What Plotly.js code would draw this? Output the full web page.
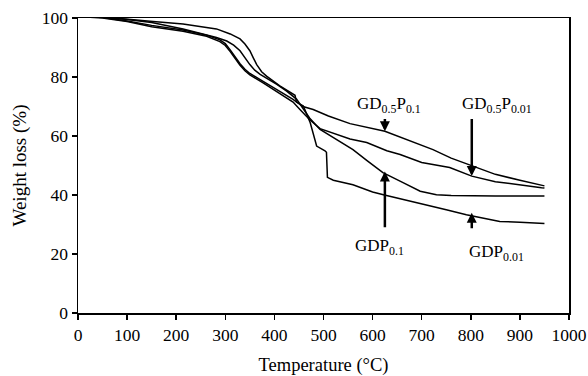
<!DOCTYPE html>
<html>
<head>
<meta charset="utf-8">
<script src="https://cdn.plot.ly/plotly-3.0.1.min.js"></script>
<style>html,body{margin:0;padding:0;background:#fff;}#chart{width:588px;height:376px;}</style>
</head>
<body>
<div id="chart"></div>
<script>
// Temperature (°C) and weight (%) for each sample
const tGD05P01 = [0,50,100,150,214,262,289,300,310,320,330,340,350,377,405,438,458,479,510,554,625,680,723,760,805,850,900,944,950];
const wGD05P01 = [100.5,100.2,99,97.5,95.9,94.2,92.6,91.3,89.2,86.8,84.5,82.6,81.2,78.5,75.8,72.4,70,69,66.8,64.2,61.6,58,55.4,52.5,49.7,47,45,43.2,43.1];

const tGD05P001 = [0,50,100,150,214,262,289,300,310,320,330,340,350,377,405,438,452,472,493,520,554,588,629,656,700,757,802,850,900,944,950];
const wGD05P001 = [100.5,100,98.8,97,95.5,93.8,92,90.7,88.6,86.2,84,82.1,80.7,78,75,71.5,69,65.5,62.5,61,59,57.8,55,53.7,51,49.3,46.4,44.5,43.3,42.5,42.4];

const tGDP01 = [0,50,100,150,214,282,303,317,330,340,350,360,371,405,425,445,460,472,493,520,560,590,621,662,697,730,760,850,950];
const wGDP01 = [100.5,100.3,99.5,98.5,96.3,93.4,92.2,90.8,88.9,86.5,84.2,82.3,80.9,77.5,75.2,72.5,69,66,62.2,59.5,55.4,51.5,47.6,44.2,41.3,40.1,39.8,39.7,39.7];

const tGDP001 = [0,30,60,100,147,214,282,310,330,340,350,357,364,374,384,411,442,445,459,473,486,503,506,508,520,560,600,622,650,700,723,750,791,830,859,900,950];
const wGDP001 = [100.5,100.5,100.2,99.7,98.9,98,96.3,94.6,92.9,91.2,88.9,86.5,84.2,81.8,80.3,77,73.8,71.5,70.2,64.5,56.6,55,54.5,46,45,43.5,41,40.1,39,37.2,36.2,35,33.3,32,31,30.8,30.3];

const xTicks = [0,100,200,300,400,500,600,700,800,900,1000];
const yTicks = [0,20,40,60,80,100];

const lineStyle = {color:'#000', width:1.5};
const traces = [
  {x:tGD05P01, y:wGD05P01, mode:'lines', line:lineStyle, name:'GD0.5P0.1'},
  {x:tGD05P001, y:wGD05P001, mode:'lines', line:lineStyle, name:'GD0.5P0.01'},
  {x:tGDP01, y:wGDP01, mode:'lines', line:lineStyle, name:'GDP0.1'},
  {x:tGDP001, y:wGDP001, mode:'lines', line:lineStyle, name:'GDP0.01'}
];

const fontFam = '"Liberation Serif", "Times New Roman", serif';
function arrow(x, y, ax, ay){
  return {x:x, y:y, ax:ax, ay:ay, xref:'x', yref:'y', axref:'x', ayref:'y',
    text:'', showarrow:true, arrowhead:2, arrowsize:0.8, arrowwidth:2.5, arrowcolor:'#000'};
}
function label(x, y, txt){
  return {x:x, y:y, xref:'x', yref:'y', text:txt, showarrow:false,
    font:{family:fontFam, size:17, color:'#000'}};
}

const layout = {
  width:588, height:376,
  margin:{l:78, r:19, t:18, b:63},
  paper_bgcolor:'#fff', plot_bgcolor:'#fff',
  showlegend:false,
  font:{family:fontFam, size:17, color:'#000'},
  xaxis:{range:[0,1000], tickvals:xTicks, ticktext:xTicks.map(String),
    ticks:'outside', ticklen:5, tickwidth:1.5, tickcolor:'#000',
    showline:true, linecolor:'#000', linewidth:1.5, mirror:true,
    showgrid:false, zeroline:false,
    tickfont:{family:fontFam, size:17.5, color:'#000'},
    title:{text:'Temperature (°C)', font:{family:fontFam, size:18.5, color:'#000'}, standoff:14}},
  yaxis:{range:[0,100], tickvals:yTicks, ticktext:yTicks.map(String),
    ticks:'outside', ticklen:5, tickwidth:1.5, tickcolor:'#000',
    showline:true, linecolor:'#000', linewidth:1.5, mirror:true,
    showgrid:false, zeroline:false,
    tickfont:{family:fontFam, size:17.5, color:'#000'},
    title:{text:'Weight loss (%)', font:{family:fontFam, size:19, color:'#000'}, standoff:10}},
  annotations:[
    arrow(625, 61.6, 625, 66.3),
    arrow(802, 46.4, 802, 66.3),
    arrow(625, 48, 625, 28.6),
    arrow(802, 34, 802, 28.2),
    label(633, 70.5, 'GD<sub>0.5</sub>P<sub>0.1</sub>'),
    label(853, 70.5, 'GD<sub>0.5</sub>P<sub>0.01</sub>'),
    label(615, 22.5, 'GDP<sub>0.1</sub>'),
    label(852, 20.5, 'GDP<sub>0.01</sub>')
  ]
};

Plotly.newPlot('chart', traces, layout, {displayModeBar:false, staticPlot:true});
</script>
</body>
</html>
